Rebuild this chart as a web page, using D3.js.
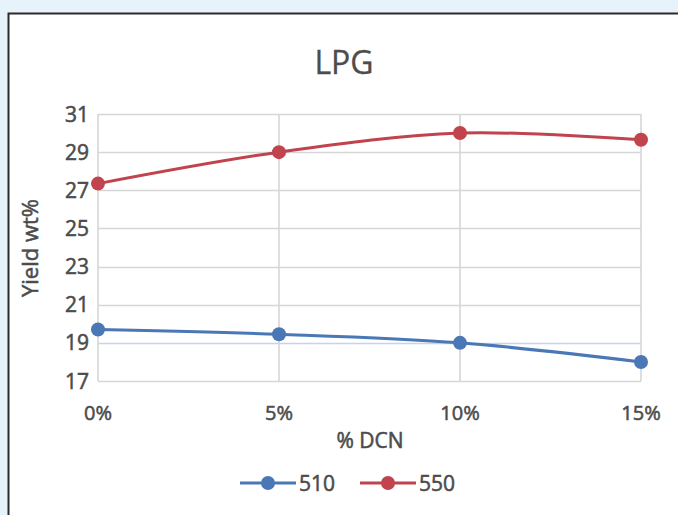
<!DOCTYPE html>
<html><head><meta charset="utf-8">
<script src="https://cdn.jsdelivr.net/npm/d3@7"></script>
<style>
html,body{margin:0;padding:0;background:#e6f3fb;}
svg{display:block;}
text{font-family:"Open Sans","Liberation Sans",sans-serif;fill:#4c4c4c;stroke:#4c4c4c;stroke-width:0.55px;}
text.title{stroke-width:0.3px;}
</style></head>
<body>
<svg id="c" width="678" height="515"></svg>
<script>
const categories = ["0%", "5%", "10%", "15%"];
const series510 = [19.7, 19.45, 19.0, 18.0];
const series550 = [27.35, 29.0, 30.0, 29.65];
const seriesNames = ["510", "550"];
const yTicks = [17, 19, 21, 23, 25, 27, 29, 31];

const svg = d3.select("#c");
svg.append("rect").attr("x", 8.5).attr("y", 13.5).attr("width", 700).attr("height", 520)
  .attr("fill", "#ffffff").attr("stroke", "#2b2b2b").attr("stroke-width", 2);

const x = d3.scalePoint().domain(categories).range([98, 641]);
const y = d3.scaleLinear().domain([17, 31]).range([381, 114]);

const g = svg.append("g");
g.selectAll("line.h").data(yTicks).join("line")
  .attr("x1", 98).attr("x2", 641)
  .attr("y1", d => Math.round(y(d)) + 0.5).attr("y2", d => Math.round(y(d)) + 0.5)
  .attr("stroke", d => d === 19 ? "#c3d4ec" : "#d6d6d6").attr("stroke-width", 1.6);
g.selectAll("line.v").data(categories).join("line")
  .attr("x1", d => x(d)).attr("x2", d => x(d))
  .attr("y1", 114).attr("y2", 381)
  .attr("stroke", "#d6d6d6").attr("stroke-width", 1.6);

g.selectAll("text.yt").data(yTicks).join("text")
  .attr("x", 89).attr("y", d => y(d)).attr("dy", "0.36em")
  .attr("text-anchor", "end").attr("font-size", 21).text(d => d);
g.selectAll("text.xt").data(categories).join("text")
  .attr("x", d => x(d)).attr("y", 413).attr("dy", "0.36em")
  .attr("text-anchor", "middle").attr("font-size", 20).text(d => d);

svg.append("text").attr("class", "title").attr("x", 344).attr("y", 74).attr("text-anchor", "middle")
  .attr("font-size", 32).text("LPG");
svg.append("text").attr("x", 370).attr("y", 448).attr("text-anchor", "middle")
  .attr("font-size", 21).text("% DCN");
svg.append("text").attr("transform", "translate(38,248) rotate(-90)")
  .attr("text-anchor", "middle").attr("font-size", 22).text("Yield wt%");

const colors = ["#4a78b6", "#c0434d"];
const line = d3.line().x((d, i) => x(categories[i])).y(d => y(d)).curve(d3.curveCatmullRom.alpha(0));
[series510, series550].forEach((s, k) => {
  svg.append("path").attr("d", line(s)).attr("fill", "none")
    .attr("stroke", colors[k]).attr("stroke-width", 3);
  svg.selectAll("circle.s" + k).data(s).join("circle")
    .attr("cx", (d, i) => x(categories[i])).attr("cy", d => y(d)).attr("r", 7)
    .attr("fill", colors[k]);
});

const leg = [{x0: 240, x1: 296, tx: 299}, {x0: 360, x1: 416, tx: 419}];
leg.forEach((l, k) => {
  svg.append("line").attr("x1", l.x0).attr("x2", l.x1).attr("y1", 483).attr("y2", 483)
    .attr("stroke", colors[k]).attr("stroke-width", 3);
  svg.append("circle").attr("cx", (l.x0 + l.x1) / 2).attr("cy", 483).attr("r", 7).attr("fill", colors[k]);
  svg.append("text").attr("x", l.tx).attr("y", 483).attr("dy", "0.36em")
    .attr("font-size", 21).text(seriesNames[k]);
});
</script>
</body></html>
